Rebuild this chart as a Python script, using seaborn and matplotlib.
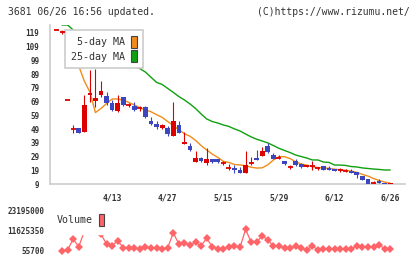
import numpy as np
import matplotlib
matplotlib.use('Agg')
from matplotlib import pyplot as plt
from matplotlib.patches import Patch
import seaborn as sns

# daily prices (first day is the carry-over point)
opens = [121, 119.5, 70, 49, 49.5, 47, 73.5, 69.5, 74, 73,
         68, 62, 72, 66.5, 66, 64, 65, 55, 52.5, 49.5,
         50, 44, 52, 38, 37, 25, 28, 24, 27.5, 27,
         24, 20.5, 20.5, 19, 17, 24.5, 28, 29.5, 37, 30,
         28, 26, 21.5, 26, 23.5, 21.5, 22, 20.5, 22, 20.5,
         20, 19, 18.5, 18.5, 17.5, 15, 12.5, 10, 11.5, 10, 9]
highs = [121, 120.5, 70, 52, 49.5, 74, 92, 92.5, 84, 76,
         70, 74, 72.5, 68, 69, 66, 66, 58, 55, 52.5,
         51, 69, 55, 47, 38.5, 33, 28.5, 35, 27.5, 27.5,
         26, 23.5, 22.5, 21.5, 33, 29, 34, 36, 38.5, 31.5,
         30, 26, 23, 27, 24, 22.5, 26, 21.5, 22, 22,
         20, 20.5, 20, 20, 17.5, 15, 12.5, 11.5, 13, 10, 10]
lows = [121, 118.5, 70, 46, 46.5, 47, 69, 65, 72.5, 66.5,
        62.5, 61.5, 65.5, 65, 62, 62.5, 57, 52, 49, 49,
        44, 44, 46, 38, 33, 25, 25, 23, 24, 24.5,
        22.5, 19, 17, 17, 17, 23, 26.5, 29.5, 31.5, 27,
        27, 23, 20, 22, 21, 21.5, 19.5, 19.5, 19.5, 19,
        18.5, 18, 17.5, 17, 13.5, 12, 9, 9, 9.5, 9, 9]
closes = [121, 119.5, 70, 49, 46.5, 66.5, 75, 71.5, 76.5, 68,
          63, 68, 66.5, 66.5, 63, 64, 57.5, 52.5, 50.5, 52,
          45.5, 55, 46.5, 39.5, 34, 28, 25.5, 27, 25, 25,
          24, 20.5, 19, 17, 23, 24.5, 26.5, 33, 32.5, 27.5,
          28, 23.5, 21.5, 22.5, 21.5, 22.5, 22, 20.5, 19.5, 19,
          18.5, 19, 18.5, 17, 15.5, 12, 9, 10, 9.5, 9, 10]

ma5 = [np.nan, 120.5, 118, 105, 95, 84, 76, 61, 64, 67.6,
       70.9, 70.9, 70.2, 68.4, 66.6, 64.5, 63.0, 61.6, 59.5, 57.5,
       54.5, 51.5, 48.5, 45.6, 43.8, 40.8, 37.0, 33.8, 30.8, 28.4,
       25.5, 24.7, 23.2, 22.9, 22.3, 21.2, 20.6, 20.8, 23.0, 26.5,
       28.9, 28.9, 27.5, 25.2, 23.5, 22.8, 21.5, 21.0, 20.7, 20.4,
       19.8, 19.4, 19.0, 18.4, 17.5, 16.0, 14.8, 13.0, 11.6, 10.4, 9.6]
ma25 = [np.nan, 124.8, 124.8, 121.2, 118, 116, 114, 112, 110, 108,
        105, 103, 100, 97.5, 95, 93, 90.5, 86.7, 83.0, 81.5,
        78.6, 75.7, 72.7, 70.2, 67.3, 64.0, 60.0, 56.4, 54.5, 53.4,
        52.0, 50.9, 49.1, 47.6, 45.4, 43.3, 41.6, 40.3, 38.9, 37.0,
        35.0, 33.4, 31.9, 30.1, 29.0, 27.9, 26.5, 26.5, 25.0, 24.7,
        22.8, 22.8, 22.5, 21.7, 21.4, 20.7, 20.3, 19.9, 19.6, 19.2, 19.2]

volume = [np.nan, 55700, 340000, 6700000, 2250000, 11100000, 23195000, 16000000, 9600000, 3700000,
          2800000, 5700000, 1700000, 1700000, 1700000, 1000000, 2250000, 1700000, 1700000, 1000000,
          1700000, 10350000, 3640000, 4220000, 3240000, 4800000, 2830000, 7100000, 2250000, 1000000,
          1000000, 2250000, 2830000, 1900000, 12300000, 4800000, 5150000, 8440000, 6300000, 2450000,
          2450000, 1700000, 1330000, 2450000, 1330000, 500000, 2550000, 500000, 1100000, 1100000,
          1100000, 1100000, 1100000, 1100000, 2450000, 2100000, 1900000, 2250000, 3240000, 1100000, 1100000]

date_labels = ['4/13', '4/27', '5/15', '5/29', '6/12', '6/26']
date_idx = [10, 20, 30, 40, 50, 60]
price_ticks = list(range(9, 120, 10))

RED = '#dd0000'
BLUE = '#3c46be'
ORANGE = '#f08c1a'
GREEN = '#10a010'
PINK = '#ff6468'
GRID = '#cccccc'
TXT = '#333333'
MONO = 'DejaVu Sans Mono'

W, H = 420, 259


def PlotCandles(ax):
    x = np.arange(len(opens))
    o = np.array(opens); c = np.array(closes)
    h = np.array(highs); l = np.array(lows)
    cols = np.where(c >= o, RED, BLUE)
    ax.vlines(x, l, h, colors=cols, lw=0.8, zorder=10)
    body = np.abs(c - o)
    m = body > 0
    ax.bar(x[m], body[m], bottom=np.minimum(o, c)[m], width=0.85,
           color=cols[m], linewidth=0, zorder=11)
    d = ~m
    ax.hlines(c[d], x[d] - 0.45, x[d] + 0.45, colors=RED, lw=1.3, zorder=11)


def MakePlot():
    sns.set_style('white')
    plt.rcParams['font.family'] = [MONO, 'DejaVu Sans']
    fig = plt.figure(figsize=(W / 100, H / 100), dpi=100)

    # price panel
    ax = fig.add_axes([50 / W, 1 - 184 / H, 355 / W, 159 / H])
    x = np.arange(len(opens))
    sns.lineplot(x=x, y=ma25, color=GREEN, lw=1, ax=ax, zorder=2)
    sns.lineplot(x=x, y=ma5, color=ORANGE, lw=1, ax=ax, zorder=3)
    PlotCandles(ax)
    x0, x1 = -(56.5 - 50) / 5.562, (405 - 56.5) / 5.562
    ax.set_xlim(x0, x1)
    ax.set_ylim(9, 124.8)
    sns.despine(ax=ax)
    for s in ['left', 'bottom']:
        ax.spines[s].set_color(GRID)
        ax.spines[s].set_linewidth(1.2)
    ax.set_yticks(price_ticks)
    ax.set_yticklabels([str(v) for v in price_ticks], fontsize=5.5,
                       fontweight='bold', color=TXT)
    ax.tick_params(axis='y', direction='inout', length=7, width=1,
                   color=GRID, pad=4)
    ax.set_xticks(date_idx)
    ax.set_xticklabels(date_labels, fontsize=5.8, fontweight='bold', color=TXT)
    ax.tick_params(axis='x', which='major', length=0, pad=7)
    ax.set_xticks(np.linspace(x0, x1, 12), minor=True)
    ax.tick_params(axis='x', which='minor', direction='inout', length=7,
                   width=1, color=GRID)
    ax.set_xlabel('')
    ax.set_ylabel('')

    handles = [Patch(facecolor=ORANGE, edgecolor='#444444', lw=0.8),
               Patch(facecolor=GREEN, edgecolor='#444444', lw=0.8)]
    leg = ax.legend(handles, ['5-day MA', '25-day MA'], loc='upper left',
                    bbox_to_anchor=(65 / W, 1 - 30 / H),
                    bbox_transform=fig.transFigure, borderaxespad=0,
                    markerfirst=False, handlelength=0.6, handleheight=1.5,
                    handletextpad=0.6, labelspacing=0.2, borderpad=0.6,
                    fancybox=False, framealpha=1, edgecolor=GRID,
                    prop=dict(family=MONO, size=7.2), labelcolor=TXT)
    leg.get_frame().set_linewidth(1.2)
    leg.set_zorder(5)

    # volume panel
    vmin, vmax = np.nanmin(volume), np.nanmax(volume)
    pp = (vmax - vmin) / 40.0
    axv = fig.add_axes([50 / W, 1 - 255 / H, 355 / W, 50 / H])
    sns.lineplot(x=x, y=volume, color=PINK, lw=0.9, marker='D', markersize=4,
                 markeredgewidth=0, ax=axv, zorder=2)
    axv.set_xlim(x0, x1)
    axv.set_ylim(vmin - 4.5 * pp, vmax + 5.5 * pp)
    sns.despine(ax=axv, left=True, bottom=True)
    axv.set_xticks([])
    vt = [vmin, (vmin + vmax) / 2, vmax]
    axv.set_yticks(vt)
    axv.set_yticklabels(['%d' % v for v in vt], fontsize=5.5,
                        fontweight='bold', color=TXT)
    axv.tick_params(axis='y', length=0, pad=4)
    axv.set_xlabel('')
    axv.set_ylabel('')
    vleg = axv.legend([Patch(facecolor=PINK, edgecolor='#444444', lw=0.8)],
                      ['Volume'], loc='upper left',
                      bbox_to_anchor=(49 / W, 1 - 206 / H),
                      bbox_transform=fig.transFigure, borderaxespad=0,
                      markerfirst=False, handlelength=0.5, handleheight=1.5,
                      handletextpad=0.6, borderpad=0.8, fancybox=False,
                      framealpha=1, edgecolor='white',
                      prop=dict(family=MONO, size=7.2), labelcolor=TXT)
    vleg.set_zorder(5)

    fig.text(8 / W, 1 - 12 / H, '3681 06/26 16:56 updated.', family=MONO,
             fontsize=7, color=TXT, va='center', ha='left')
    fig.text(410 / W, 1 - 12 / H, '(C)https://www.rizumu.net/', family=MONO,
             fontsize=7, color=TXT, va='center', ha='right')
    plt.savefig('out.png', dpi=100)


if __name__ == '__main__':
    MakePlot()
